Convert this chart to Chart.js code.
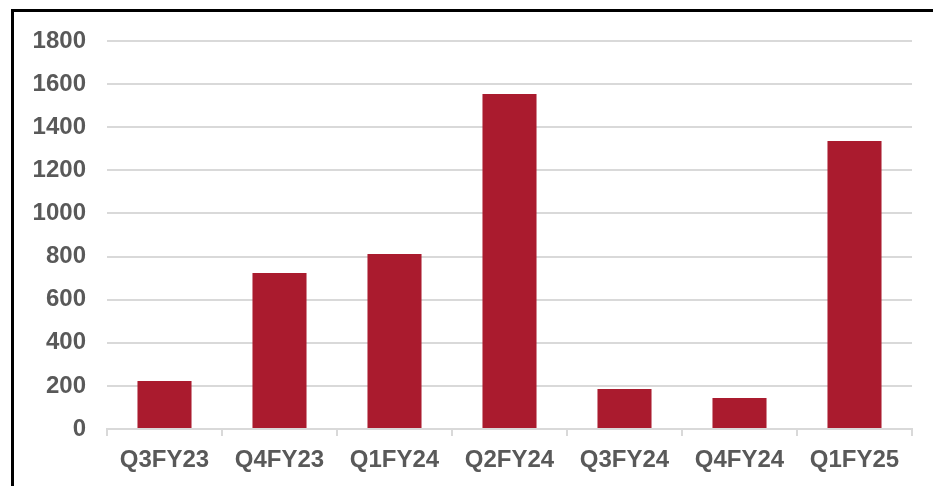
<!DOCTYPE html>
<html>
<head>
<meta charset="utf-8">
<script src="https://cdn.jsdelivr.net/npm/chart.js@4/dist/chart.umd.min.js"></script>
<style>
  html, body { margin: 0; padding: 0; background: #fff; }
  #wrap { position: relative; width: 933px; height: 486px; overflow: hidden; }
  #frame { position: absolute; left: 11px; top: 9px; width: 940px; height: 500px;
           border-top: 3px solid #000; border-left: 3px solid #000; box-sizing: border-box; }
  canvas { position: absolute; left: 0; top: 0; }
</style>
</head>
<body>
<div id="wrap">
  <div id="frame"></div>
  <canvas id="chart" width="933" height="486"></canvas>
</div>
<script>
// ---- data ----
const quarters = ["Q3FY23", "Q4FY23", "Q1FY24", "Q2FY24", "Q3FY24", "Q4FY24", "Q1FY25"];
const values = [223, 724, 812, 1554, 186, 144, 1336];
const yTicks = [0, 200, 400, 600, 800, 1000, 1200, 1400, 1600, 1800];

const GRID = "#d9d9d9";
const TEXT = "#595959";
const BAR = "#aa1b2e";
const font = { family: "'Liberation Sans', Arial, sans-serif", size: 24, weight: "bold" };

new Chart(document.getElementById("chart").getContext("2d"), {
  type: "bar",
  data: {
    labels: quarters,
    datasets: [{ data: values, backgroundColor: BAR, borderWidth: 0,
                 barPercentage: 0.47, categoryPercentage: 1 }]
  },
  options: {
    responsive: false,
    animation: false,
    layout: { padding: { left: 0, right: 21, top: 41, bottom: 0 } },
    plugins: { legend: { display: false }, tooltip: { enabled: false } },
    scales: {
      x: {
        offset: true,
        grid: { display: true, drawOnChartArea: false, drawTicks: true, tickLength: 7,
                color: GRID, lineWidth: 2, offset: true },
        border: { display: true, color: GRID, width: 2 },
        ticks: { color: TEXT, font: font, padding: 10, maxRotation: 0 },
        afterFit: s => { s.height = 486 - 429; }
      },
      y: {
        min: 0, max: 1800,
        afterBuildTicks: s => { s.ticks = yTicks.map(v => ({ value: v })); },
        grid: { color: GRID, lineWidth: 2, drawTicks: false },
        border: { display: false },
        ticks: { color: TEXT, font: font, padding: 21, callback: v => String(v) },
        afterFit: s => { s.width = 107; }
      }
    }
  }
});
</script>
</body>
</html>
